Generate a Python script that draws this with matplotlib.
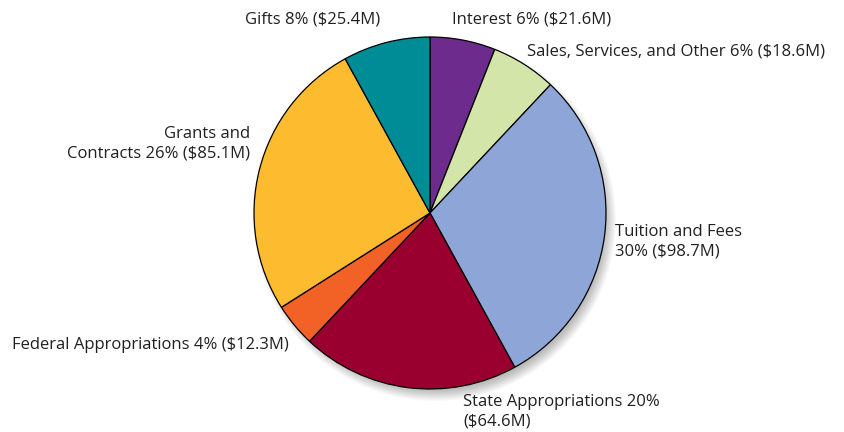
import numpy as np
import matplotlib
matplotlib.use("Agg")
import matplotlib.pyplot as plt
from matplotlib.patches import Circle

# revenue sources, clockwise from 12 o'clock
labels = ["Interest", "Sales, Services, and Other", "Tuition and Fees",
          "State Appropriations", "Federal Appropriations",
          "Grants and Contracts", "Gifts"]
values = [21.6, 18.6, 98.7, 64.6, 12.3, 85.1, 25.4]
pcts = [6, 6, 30, 20, 4, 26, 8]
colors = ["#6c2b8d", "#d4e5a9", "#8da6d7", "#99002f", "#f26126",
          "#fdbb30", "#008c96"]

texts = ["Interest 6% ($21.6M)",
         "Sales, Services, and Other 6% ($18.6M)",
         "Tuition and Fees\n30% ($98.7M)",
         "State Appropriations 20%\n($64.6M)",
         "Federal Appropriations 4% ($12.3M)",
         "Grants and\nContracts 26% ($85.1M)",
         "Gifts 8% ($25.4M)"]
# label anchor (px from top-left), alignment
lab_pos = [(452, 20, "left"), (527, 52, "left"), (615, 242, "left"),
           (463, 412, "left"), (12, 345, "left"), (250, 144, "right"),
           (380, 20, "right")]

W, H = 844, 432
fig = plt.figure(figsize=(W / 100, H / 100), dpi=100)
ax = fig.add_axes([0, 0, 1, 1])

cx, cy, r = 430, H - 213, 176

# soft drop shadow
for i in range(12):
    ax.add_patch(Circle((cx + 5, cy - 7), r + 5 - i, color="black",
                        alpha=0.022, lw=0, zorder=1))

# slices are drawn by the printed percentages
ax.pie(pcts, colors=colors, startangle=90, counterclock=False,
       center=(cx, cy), radius=r, frame=True,
       wedgeprops=dict(edgecolor="black", linewidth=0.9, zorder=2))
ax.set_xlim(0, W)
ax.set_ylim(0, H)
ax.set_aspect("equal")
ax.axis("off")

for t, (x, y, ha) in zip(texts, lab_pos):
    ax.text(x, H - y, t, ha=ha, va="center", fontsize=12,
            family="Open Sans", color="#231f20", linespacing=1.25,
            multialignment=ha)

fig.savefig("out.png", dpi=100)
